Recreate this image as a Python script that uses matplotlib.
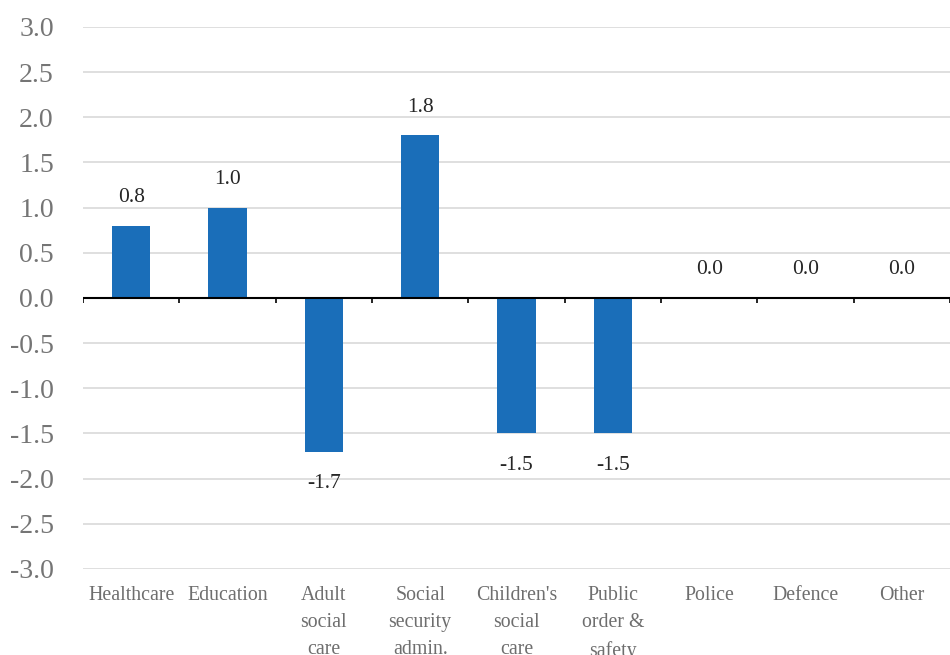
import numpy as np
import matplotlib.pyplot as plt

categorias = ["Healthcare", "Education", "Adult\nsocial\ncare", "Social\nsecurity\nadmin.",
              "Children's\nsocial\ncare", "Public\norder &\nsafety", "Police", "Defence", "Other"]
valores = [0.8, 1.0, -1.7, 1.8, -1.5, -1.5, 0.0, 0.0, 0.0]
yticks = np.arange(-3.0, 3.01, 0.5)

plt.rcParams['font.family'] = ['Liberation Serif', 'DejaVu Serif']

fig = plt.figure(figsize=(9.5, 6.55), dpi=100)
ax = fig.add_axes([0.0874, 0.1313, 0.9126, 0.8275])

x = np.arange(len(categorias))
ax.bar(x, valores, width=0.4, color='#1a6eb9', zorder=3)

ax.set_xlim(-0.5, len(categorias) - 0.5)
ax.set_ylim(-3, 3)
ax.set_yticks(yticks)
ax.set_yticklabels([f"{v:.1f}" for v in yticks])
ax.grid(axis='y', color='#d9d9d9', linewidth=1.2, zorder=0)
ax.set_axisbelow(True)
for s in ax.spines.values():
    s.set_visible(False)

ax.tick_params(axis='y', length=0, pad=21, labelsize=20, labelcolor='#757575')
ax.set_xticks(x)
ax.set_xticklabels(categorias, linespacing=1.6)
ax.tick_params(axis='x', length=0, pad=12, labelsize=14.3, labelcolor='#6e6e6e')

# linea del cero y marcas entre categorias
ax.axhline(0, color='black', linewidth=1.5, zorder=4)
bordes = np.arange(-0.5, len(categorias), 1.0)
ax.vlines(bordes, -0.06, 0, color='black', linewidth=1.2, zorder=4)

for xi, v in zip(x, valores):
    off = 17 if v >= 0 else -26
    ax.annotate(f"{v:.1f}", (xi, v), xytext=(0, off), textcoords='offset points',
                ha='center', va='baseline', fontsize=15.5, color='#262626')

fig.savefig('out.png', dpi=100)
